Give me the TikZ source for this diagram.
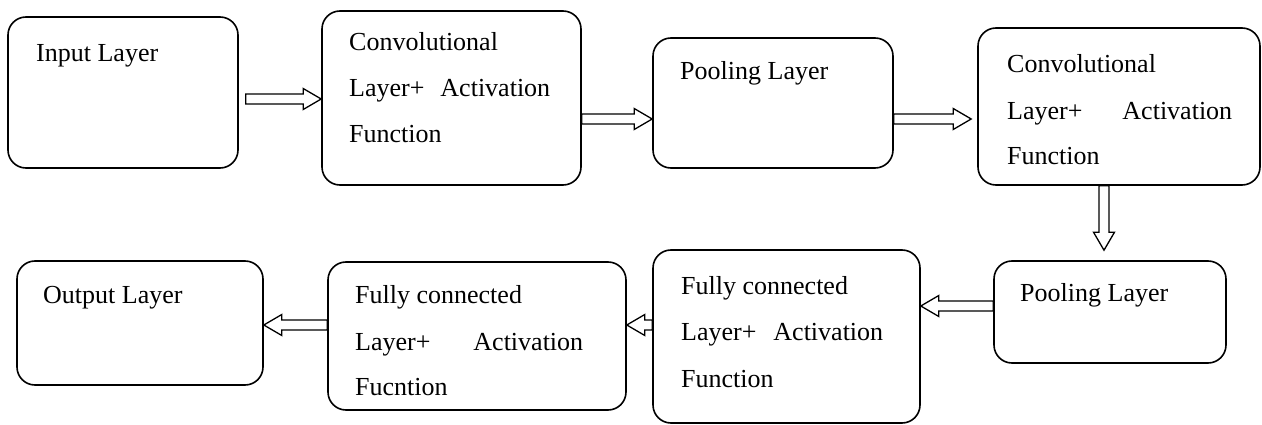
\documentclass[tikz,border=0pt]{standalone}
\usepackage{fontspec}
\setmainfont{Liberation Serif}
\usetikzlibrary{calc}
\tikzset{
  box/.style={draw, line width=1.6pt, rounded corners=18pt, inner sep=0pt},
  lbl/.style={anchor=base west, inner sep=0pt, font=\fontsize{26}{30}\selectfont},
  blk/.style={draw, line width=1.3pt, fill=white, line join=miter},
}
\newcommand\hblock[2]{%
  \draw[blk] let \p1=(#1), \p2=(#2), \n1={ifthenelse(\x2>\x1,1,-1)} in
    (\x1,{\y1+5pt}) -- ({\x2-(\n1)*18pt},{\y1+5pt}) -- ({\x2-(\n1)*18pt},{\y1+10.5pt})
    -- (\x2,\y1) -- ({\x2-(\n1)*18pt},{\y1-10.5pt}) -- ({\x2-(\n1)*18pt},{\y1-5pt})
    -- (\x1,{\y1-5pt}) -- cycle;}
\newcommand\vblock[2]{%
  \draw[blk] let \p1=(#1), \p2=(#2), \n1={ifthenelse(\y2>\y1,1,-1)} in
    ({\x1+5pt},\y1) -- ({\x1+5pt},{\y2-(\n1)*18pt}) -- ({\x1+10.5pt},{\y2-(\n1)*18pt})
    -- (\x1,\y2) -- ({\x1-10.5pt},{\y2-(\n1)*18pt}) -- ({\x1-5pt},{\y2-(\n1)*18pt})
    -- ({\x1-5pt},\y1) -- cycle;}
\begin{document}
\begin{tikzpicture}[x=1pt,y=-1pt]
\fill[white] (0,0) rectangle (1262,425);
\useasboundingbox (0,0) rectangle (1262,425);

% boxes
\node[box, minimum width=230pt, minimum height=151pt] (b1) at (123,92.5) {};
\node[box, minimum width=259pt, minimum height=174pt] (b2) at (451.5,98) {};
\node[box, minimum width=240pt, minimum height=130pt] (b3) at (773,103) {};
\node[box, minimum width=282pt, minimum height=157pt] (b4) at (1119,106.5) {};
\node[box, minimum width=232pt, minimum height=102pt] (b5) at (1110,312) {};
\node[box, minimum width=267pt, minimum height=173pt] (b6) at (786.5,336.5) {};
\node[box, minimum width=298pt, minimum height=148pt] (b7) at (477,336) {};
\node[box, minimum width=246pt, minimum height=124pt] (b8) at (140,323) {};

% texts
\node[lbl] (t1) at (36,62) {Input Layer};
\node[lbl] (t2a) at (349,51) {Convolutional};
\node[lbl] (t2b) at (349,97) {\makebox[201pt][s]{Layer+ Activation}};
\node[lbl] (t2c) at (349,143) {Function};
\node[lbl] (t3) at (680,80) {Pooling Layer};
\node[lbl] (t4a) at (1007,73) {Convolutional};
\node[lbl] (t4b) at (1007,120) {\makebox[225pt][s]{Layer+ Activation}};
\node[lbl] (t4c) at (1007,165) {Function};
\node[lbl] (t5) at (1020,301) {Pooling Layer};
\node[lbl] (t6a) at (681,294) {Fully connected};
\node[lbl] (t6b) at (681,340) {\makebox[202pt][s]{Layer+ Activation}};
\node[lbl] (t6c) at (681,387) {Function};
\node[lbl] (t7a) at (355,303) {Fully connected};
\node[lbl] (t7b) at (355,350) {\makebox[228pt][s]{Layer+ Activation}};
\node[lbl] (t7c) at (355,395) {Fucntion};
\node[lbl] (t8) at (43,303) {Output Layer};

% arrow levels
\coordinate (y1) at (0,99);
\coordinate (y2) at (0,119);
\coordinate (y5) at (0,306);
\coordinate (y6) at (0,325);
\coordinate (x4) at (1104,0);

\coordinate (a1s) at ($(b1.east |- y1)+(7,0)$);
\coordinate (a1e) at (b2.west |- y1);
\coordinate (a2s) at (b2.east |- y2);
\coordinate (a2e) at (b3.west |- y2);
\coordinate (a3s) at (b3.east |- y2);
\coordinate (a3e) at ($(b4.west |- y2)+(-6,0)$);
\coordinate (a4s) at (x4 |- b4.south);
\coordinate (a4e) at ($(x4 |- b5.north)+(0,-10)$);
\coordinate (a5s) at (b5.west |- y5);
\coordinate (a5e) at (b6.east |- y5);
\coordinate (a6s) at (b6.west |- y6);
\coordinate (a6e) at (b7.east |- y6);
\coordinate (a7s) at (b7.west |- y6);
\coordinate (a7e) at (b8.east |- y6);

\hblock{a1s}{a1e}
\hblock{a2s}{a2e}
\hblock{a3s}{a3e}
\vblock{a4s}{a4e}
\hblock{a5s}{a5e}
\hblock{a6s}{a6e}
\hblock{a7s}{a7e}
\end{tikzpicture}
\end{document}
